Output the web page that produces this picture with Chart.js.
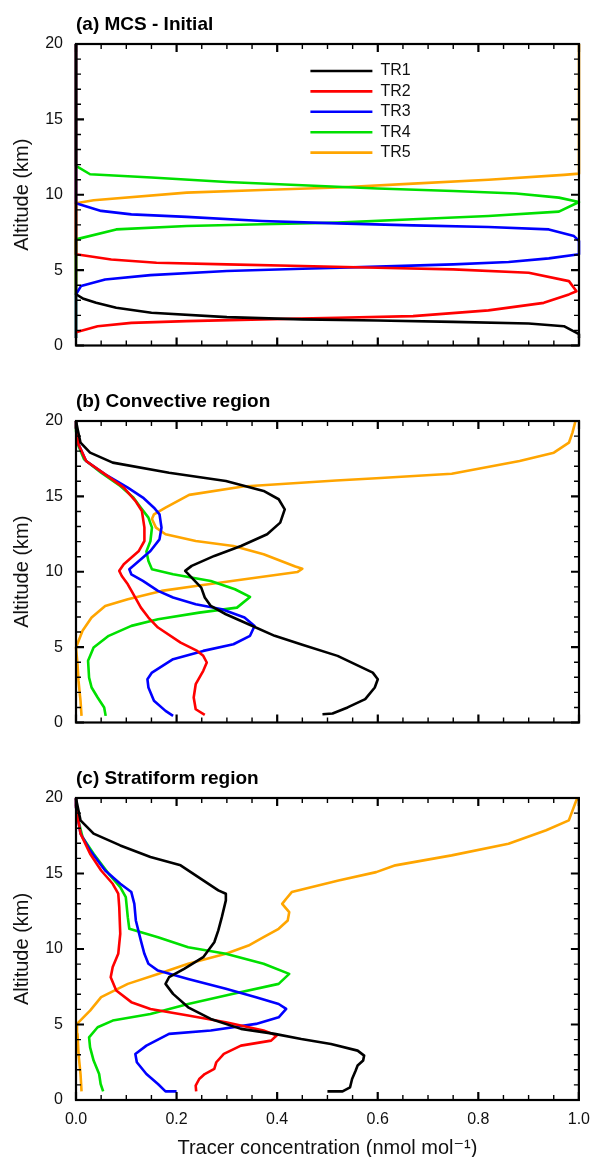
<!DOCTYPE html>
<html>
<head>
<meta charset="utf-8">
<script src="https://cdn.jsdelivr.net/npm/chart.js@4/dist/chart.umd.min.js"></script>
<style>
  html, body { margin: 0; padding: 0; background: #fff; overflow: hidden; }
  .panel { position: absolute; left: 0; width: 590px; }
</style>
</head>
<body>
<div class="panel" style="top:0px;height:377px"><canvas id="panel_a"></canvas></div>
<div class="panel" style="top:377px;height:377px"><canvas id="panel_b"></canvas></div>
<div class="panel" style="top:754px;height:410px"><canvas id="panel_c"></canvas></div>
<script>
// tracer names and colours
var tracerNames = ["TR1", "TR2", "TR3", "TR4", "TR5"];
var tracerColors = ["#000000", "#ff0000", "#0000ff", "#00e000", "#ffa500"];

// axis ticks
var xTickValues = [0, 0.2, 0.4, 0.6, 0.8, 1.0];
var yTickValues = [0, 5, 10, 15, 20];
var xMinorStep = 0.05;
var yMinorStep = 1;

// profiles as [concentration (nmol/mol), altitude (km)]
// (a) MCS - Initial
var aTR1 = [[1, 0.5], [1, 0.75], [0.97, 1.28], [0.9, 1.46], [0.75, 1.57], [0.6, 1.66], [0.45, 1.73], [0.3, 1.88], [0.15, 2.17], [0.08, 2.5], [0.04, 2.83], [0.015, 3.1], [0, 3.4], [0, 20]];
var aTR2 = [[0, 0.88], [0.043, 1.28], [0.11, 1.5], [0.22, 1.62], [0.37, 1.73], [0.52, 1.84], [0.67, 1.95], [0.82, 2.33], [0.93, 2.83], [0.98, 3.39], [0.995, 3.6], [0.98, 4.27], [0.9, 4.83], [0.75, 5.05], [0.6, 5.16], [0.45, 5.27], [0.3, 5.38], [0.16, 5.49], [0.07, 5.71], [0, 6.05], [0, 20]];
var aTR3 = [[0, 0.5], [0, 3.4], [0.01, 3.94], [0.058, 4.38], [0.148, 4.67], [0.3, 4.94], [0.45, 5.09], [0.6, 5.23], [0.75, 5.38], [0.86, 5.54], [0.94, 5.78], [1, 6.05], [1, 6.93], [0.99, 7.26], [0.94, 7.7], [0.82, 7.86], [0.67, 7.97], [0.52, 8.1], [0.37, 8.26], [0.22, 8.53], [0.11, 8.7], [0.05, 8.93], [0, 9.43], [0, 20]];
var aTR4 = [[0, 0.5], [0, 7.04], [0.08, 7.7], [0.22, 7.93], [0.37, 8.04], [0.52, 8.15], [0.67, 8.37], [0.82, 8.59], [0.96, 8.88], [1, 9.52], [0.96, 9.81], [0.875, 10.08], [0.75, 10.25], [0.6, 10.41], [0.45, 10.63], [0.3, 10.85], [0.15, 11.14], [0.028, 11.36], [0, 11.92], [0, 20]];
var aTR5 = [[0, 0.5], [0, 9.43], [0.035, 9.63], [0.22, 10.14], [0.37, 10.32], [0.52, 10.48], [0.67, 10.74], [0.82, 10.99], [0.97, 11.32], [1, 11.4], [1, 20]];

// (b) Convective region
var bTR1 = [[0.49, 0.55], [0.51, 0.6], [0.54, 1.0], [0.575, 1.55], [0.594, 2.32], [0.6, 2.87], [0.59, 3.31], [0.52, 4.42], [0.45, 5.15], [0.395, 5.75], [0.343, 6.52], [0.298, 7.18], [0.268, 7.73], [0.256, 8.29], [0.249, 8.95], [0.23, 9.61], [0.217, 10.06], [0.23, 10.39], [0.275, 11.05], [0.328, 11.71], [0.38, 12.49], [0.406, 13.26], [0.415, 14.14], [0.403, 14.81], [0.373, 15.36], [0.298, 16.02], [0.185, 16.57], [0.073, 17.24], [0.028, 17.9], [0.009, 18.56], [0.004, 19.34], [0, 20]];
var bTR2 = [[0.256, 0.51], [0.238, 0.88], [0.234, 1.66], [0.238, 2.54], [0.253, 3.43], [0.26, 3.98], [0.253, 4.42], [0.241, 4.75], [0.208, 5.3], [0.163, 6.3], [0.144, 6.96], [0.129, 7.62], [0.114, 8.51], [0.103, 9.17], [0.091, 9.72], [0.086, 10.06], [0.095, 10.5], [0.125, 11.38], [0.136, 12.04], [0.136, 12.93], [0.131, 14.03], [0.118, 14.7], [0.095, 15.58], [0.058, 16.46], [0.02, 17.35], [0.005, 18.45], [0, 19.56], [0, 20]];
var bTR3 = [[0.193, 0.44], [0.178, 0.77], [0.155, 1.44], [0.144, 2.32], [0.142, 2.87], [0.151, 3.31], [0.193, 4.2], [0.253, 4.75], [0.313, 5.19], [0.346, 5.75], [0.355, 6.4], [0.335, 6.96], [0.29, 7.51], [0.238, 7.85], [0.193, 8.29], [0.163, 8.73], [0.133, 9.39], [0.11, 9.83], [0.106, 10.17], [0.125, 10.72], [0.148, 11.38], [0.166, 12.15], [0.17, 12.93], [0.166, 13.81], [0.155, 14.25], [0.133, 14.92], [0.103, 15.58], [0.058, 16.46], [0.02, 17.35], [0.005, 18.45], [0, 19.56], [0, 20]];
var bTR4 = [[0.059, 0.44], [0.056, 1.0], [0.043, 1.66], [0.031, 2.32], [0.026, 2.98], [0.024, 4.09], [0.035, 4.97], [0.065, 5.75], [0.11, 6.41], [0.163, 6.85], [0.245, 7.29], [0.32, 7.62], [0.346, 8.33], [0.316, 8.84], [0.268, 9.39], [0.193, 9.83], [0.151, 10.17], [0.144, 10.72], [0.14, 11.35], [0.148, 12.04], [0.151, 12.93], [0.144, 13.59], [0.129, 14.25], [0.114, 14.92], [0.088, 15.69], [0.05, 16.57], [0.016, 17.46], [0.005, 18.34], [0, 19.34], [0, 20]];
var bTR5 = [[0.011, 0.44], [0.009, 1.44], [0.005, 2.76], [0.003, 3.87], [0, 4.97], [0.013, 6.08], [0.031, 6.96], [0.058, 7.73], [0.103, 8.18], [0.17, 8.73], [0.238, 9.06], [0.335, 9.5], [0.44, 9.98], [0.45, 10.2], [0.436, 10.35], [0.373, 11.16], [0.313, 11.71], [0.238, 12.04], [0.178, 12.49], [0.159, 12.93], [0.151, 13.5], [0.155, 13.81], [0.178, 14.25], [0.225, 15.1], [0.332, 15.65], [0.517, 16.05], [0.597, 16.2], [0.747, 16.5], [0.882, 17.35], [0.95, 17.9], [0.98, 18.56], [0.987, 19.23], [0.993, 20]];

// (c) Stratiform region
var cTR1 = [[0.5, 0.57], [0.53, 0.57], [0.545, 0.84], [0.549, 1.39], [0.556, 1.94], [0.56, 2.28], [0.571, 2.61], [0.573, 2.94], [0.56, 3.27], [0.507, 3.71], [0.448, 4.04], [0.395, 4.38], [0.328, 4.71], [0.268, 5.37], [0.223, 6.14], [0.193, 7.03], [0.178, 7.69], [0.185, 8.13], [0.215, 8.69], [0.253, 9.46], [0.275, 10.45], [0.283, 11.23], [0.29, 12.11], [0.298, 13.22], [0.298, 13.66], [0.283, 13.88], [0.253, 14.54], [0.208, 15.54], [0.148, 16.09], [0.088, 16.86], [0.035, 17.64], [0.009, 18.52], [0, 19.96]];
var cTR2 = [[0.239, 0.57], [0.238, 0.95], [0.245, 1.39], [0.256, 1.72], [0.275, 2.06], [0.279, 2.5], [0.294, 3.05], [0.328, 3.6], [0.388, 3.93], [0.399, 4.27], [0.373, 4.6], [0.298, 5.15], [0.223, 5.59], [0.148, 6.03], [0.11, 6.48], [0.08, 7.25], [0.069, 8.13], [0.073, 8.8], [0.084, 9.68], [0.088, 11.01], [0.086, 12.77], [0.084, 13.66], [0.073, 14.32], [0.05, 15.2], [0.028, 16.31], [0.009, 17.64], [0, 19.4], [0, 20]];
var cTR3 = [[0.2, 0.57], [0.178, 0.57], [0.163, 1.06], [0.14, 1.72], [0.121, 2.5], [0.118, 3.05], [0.14, 3.6], [0.185, 4.38], [0.268, 4.6], [0.358, 5.04], [0.403, 5.48], [0.418, 6.03], [0.403, 6.36], [0.358, 6.81], [0.298, 7.36], [0.223, 8.02], [0.163, 8.57], [0.144, 9.02], [0.136, 9.68], [0.129, 10.56], [0.119, 11.89], [0.116, 12.99], [0.11, 13.77], [0.088, 14.32], [0.058, 15.2], [0.028, 16.53], [0.009, 17.64], [0, 19.4], [0, 20]];
var cTR4 = [[0.054, 0.57], [0.049, 1.06], [0.046, 1.72], [0.035, 2.61], [0.028, 3.49], [0.026, 4.15], [0.043, 4.82], [0.073, 5.26], [0.148, 5.7], [0.223, 6.36], [0.313, 7.03], [0.403, 7.69], [0.424, 8.35], [0.373, 9.02], [0.298, 9.68], [0.223, 10.12], [0.163, 10.78], [0.106, 11.34], [0.103, 12.11], [0.099, 13.44], [0.088, 14.1], [0.065, 14.98], [0.035, 16.31], [0.013, 17.41], [0.003, 18.74], [0, 19.96]];
var cTR5 = [[0.011, 0.57], [0.009, 1.72], [0.005, 3.05], [0.003, 4.38], [0.002, 5.04], [0.028, 5.92], [0.05, 6.81], [0.103, 7.69], [0.163, 8.35], [0.223, 9.02], [0.298, 9.68], [0.343, 10.23], [0.373, 10.78], [0.403, 11.34], [0.421, 11.89], [0.424, 12.44], [0.41, 12.99], [0.418, 13.33], [0.429, 13.77], [0.522, 14.54], [0.597, 15.09], [0.635, 15.54], [0.747, 16.2], [0.86, 16.97], [0.935, 17.86], [0.98, 18.52], [0.995, 19.85], [1, 20]];

var fontFamily = "'Liberation Sans', Arial, Helvetica, 'DejaVu Sans', sans-serif";
Chart.defaults.font.family = fontFamily;
Chart.defaults.color = "#111";

function isMajor(v, list) {
  for (var i = 0; i < list.length; i++) {
    if (Math.abs(list[i] - v) < 1e-6) return true;
  }
  return false;
}

// frame with inward ticks on all four sides, drawn over the lines
var framePlugin = {
  id: "frame",
  afterDatasetsDraw: function (chart) {
    var ctx = chart.ctx;
    var area = chart.chartArea;
    var xs = chart.scales.x;
    var ys = chart.scales.y;
    ctx.save();
    ctx.strokeStyle = "#000";
    ctx.lineWidth = 2.2;
    ctx.strokeRect(area.left, area.top, area.right - area.left, area.bottom - area.top);

    var n = Math.round((xs.max - xs.min) / xMinorStep);
    for (var i = 0; i <= n; i++) {
      var v = xs.min + i * xMinorStep;
      var major = isMajor(v, xTickValues);
      var len = major ? 8 : 5;
      var px = xs.getPixelForValue(v);
      ctx.lineWidth = major ? 2.2 : 1.4;
      ctx.beginPath();
      ctx.moveTo(px, area.bottom);
      ctx.lineTo(px, area.bottom - len);
      ctx.moveTo(px, area.top);
      ctx.lineTo(px, area.top + len);
      ctx.stroke();
    }
    var m = Math.round((ys.max - ys.min) / yMinorStep);
    for (var j = 0; j <= m; j++) {
      var w = ys.min + j * yMinorStep;
      var majorY = isMajor(w, yTickValues);
      var lenY = majorY ? 8 : 5;
      var py = ys.getPixelForValue(w);
      ctx.lineWidth = majorY ? 2.2 : 1.4;
      ctx.beginPath();
      ctx.moveTo(area.left, py);
      ctx.lineTo(area.left + lenY, py);
      ctx.moveTo(area.right, py);
      ctx.lineTo(area.right - lenY, py);
      ctx.stroke();
    }
    ctx.restore();
  },
};

// put the vertical legend inside the plot, upper middle
var legendPlace = {
  id: "legendPlace",
  afterLayout: function (chart) {
    if (chart.options.plugins.legend.display && chart.legend) {
      chart.legend.left = chart.chartArea.left + 230;
      chart.legend.top = chart.chartArea.top + 14.6;
    }
  },
};

function toPoints(pairs) {
  return pairs.map(function (p) {
    return { x: p[0], y: p[1] };
  });
}

function drawPanel(canvasId, title, series, showX, showLegend) {
  var datasets = [];
  for (var i = 0; i < series.length; i++) {
    datasets.push({
      label: tracerNames[i],
      data: toPoints(series[i]),
      borderColor: tracerColors[i],
      backgroundColor: tracerColors[i],
      borderWidth: 2.6,
      borderJoinStyle: "round",
      pointRadius: 0,
      showLine: true,
      clip: false,
    });
  }

  var config = {
    type: "scatter",
    data: { datasets: datasets },
    options: {
      responsive: true,
      maintainAspectRatio: false,
      animation: false,
      events: [],
      layout: { padding: { top: 13.6, right: 11, bottom: 0, left: 0 } },
      scales: {
        x: {
          type: "linear",
          min: 0,
          max: 1,
          // invisible tick length gives the gap under the axis, so the
          // label padding does not eat into the right margin
          grid: { display: false, drawTicks: true, tickLength: 10 },
          border: { display: false },
          ticks: {
            display: showX,
            stepSize: 0.2,
            padding: 0,
            font: { size: 16 },
            color: "#111",
            callback: function (v) {
              return v.toFixed(1);
            },
          },
          title: {
            display: showX,
            text: "Tracer concentration (nmol mol\u207B\u00B9)",
            font: { size: 20 },
            color: "#111",
            padding: { top: 0, bottom: 4 },
          },
          afterFit: function (s) {
            s.height = showX ? 64 : 31.5;
          },
        },
        y: {
          type: "linear",
          min: 0,
          max: 20,
          grid: { display: false, drawTicks: false },
          border: { display: false },
          ticks: {
            stepSize: 5,
            padding: 13,
            font: { size: 16 },
            color: "#111",
          },
          title: {
            display: true,
            text: "Altitude (km)",
            font: { size: 20 },
            color: "#111",
            padding: { top: 10, bottom: 4 },
          },
          afterFit: function (s) {
            s.width = 76;
          },
        },
      },
      plugins: {
        title: {
          display: true,
          text: title,
          align: "start",
          fullSize: false,
          color: "#000",
          font: { size: 19, weight: "bold" },
          padding: { top: 0, bottom: 7.6 },
        },
        legend: {
          display: showLegend,
          position: "chartArea",
          align: "start",
          labels: {
            usePointStyle: true,
            pointStyle: "line",
            pointStyleWidth: 62,
            padding: 4.4,
            color: "#111",
            font: { size: 16 },
          },
        },
        tooltip: { enabled: false },
      },
    },
    plugins: [framePlugin, legendPlace],
  };

  return new Chart(document.getElementById(canvasId), config);
}

drawPanel("panel_a", "(a) MCS - Initial", [aTR1, aTR2, aTR3, aTR4, aTR5], false, true);
drawPanel("panel_b", "(b) Convective region", [bTR1, bTR2, bTR3, bTR4, bTR5], false, false);
drawPanel("panel_c", "(c) Stratiform region", [cTR1, cTR2, cTR3, cTR4, cTR5], true, false);
</script>
</body>
</html>
